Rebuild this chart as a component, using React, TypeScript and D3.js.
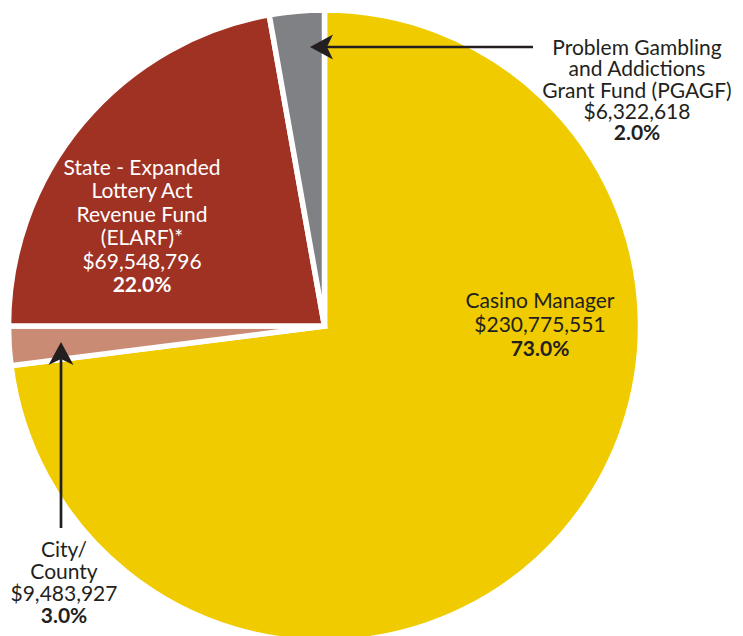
import React from 'react';
import * as d3 from 'd3';

// ---- data ----
const categories = ['Casino Manager', 'City/County', 'State - ELARF', 'PGAGF'];
const nameLines = [
  ['Casino Manager'],
  ['City/', 'County'],
  ['State - Expanded', 'Lottery Act', 'Revenue Fund', '(ELARF)*'],
  ['Problem Gambling', 'and Addictions', 'Grant Fund (PGAGF)'],
];
const amounts = ['$230,775,551', '$9,483,927', '$69,548,796', '$6,322,618'];
const percents = ['73.0%', '3.0%', '22.0%', '2.0%'];
// slice shares as drawn in the picture (percent of circle)
const sliceShares = [73.0, 2.0, 22.2, 2.8];
const colors = ['#EFCB00', '#C98B74', '#A03223', '#808184'];

const W = 743;
const H = 636;
const CX = 324.5;
const CY = 326;
const R = 316;
const FONT = 'Lato, "Open Sans", sans-serif';

// label layout: [cx, firstBaseline, lineHeight, fill]
const labelLayout: [number, number, number, string][] = [
  [540, 308, 24, '#231F20'],
  [64, 557, 22, '#231F20'],
  [142, 175, 23.4, '#FFFFFF'],
  [637, 55, 21.3, '#231F20'],
];

function Arrowhead({ x, y, dir }: { x: number; y: number; dir: 'left' | 'up' }) {
  const pts =
    dir === 'left'
      ? [[x, y], [x + 23, y - 12.5], [x + 17, y], [x + 23, y + 12.5]]
      : [[x, y], [x - 12.5, y + 23], [x, y + 17], [x + 12.5, y + 23]];
  return <path d={'M' + pts.map((p) => p.join(',')).join('L') + 'Z'} fill="#231F20" />;
}

export default function App() {
  const pie = d3
    .pie<number>()
    .sort(null)
    .value((d) => d)
    .startAngle(0)
    .endAngle(2 * Math.PI);
  const arcs = pie(sliceShares);
  const arc = d3.arc<d3.PieArcDatum<number>>().innerRadius(0).outerRadius(R);

  return (
    <svg
      width={W}
      height={H}
      style={{ position: 'absolute', left: 0, top: 0, background: '#fff' }}
      fontFamily={FONT}
    >
      <g transform={`translate(${CX},${CY})`}>
        {arcs.map((a, i) => (
          <path
            key={categories[i]}
            d={arc(a) || ''}
            fill={colors[i]}
            stroke="#fff"
            strokeWidth={5.5}
            strokeLinejoin="miter"
          />
        ))}
      </g>

      {/* PGAGF arrow */}
      <line x1={326} y1={47} x2={533} y2={47} stroke="#231F20" strokeWidth={2.7} />
      <Arrowhead x={310} y={47} dir="left" />

      {/* City arrow */}
      <line x1={61} y1={358} x2={61} y2={528} stroke="#231F20" strokeWidth={2.7} />
      <Arrowhead x={61} y={342} dir="up" />

      {nameLines.map((lines, i) => {
        const [lx, ly, lh, fill] = labelLayout[i];
        const all = [...lines, amounts[i], percents[i]];
        return (
          <text key={categories[i]} fill={fill} fontSize={21} textAnchor="middle">
            {all.map((t, j) => (
              <tspan
                key={j}
                x={lx}
                y={ly + j * lh}
                fontWeight={j === all.length - 1 ? 700 : 400}
              >
                {t}
              </tspan>
            ))}
          </text>
        );
      })}
    </svg>
  );
}
